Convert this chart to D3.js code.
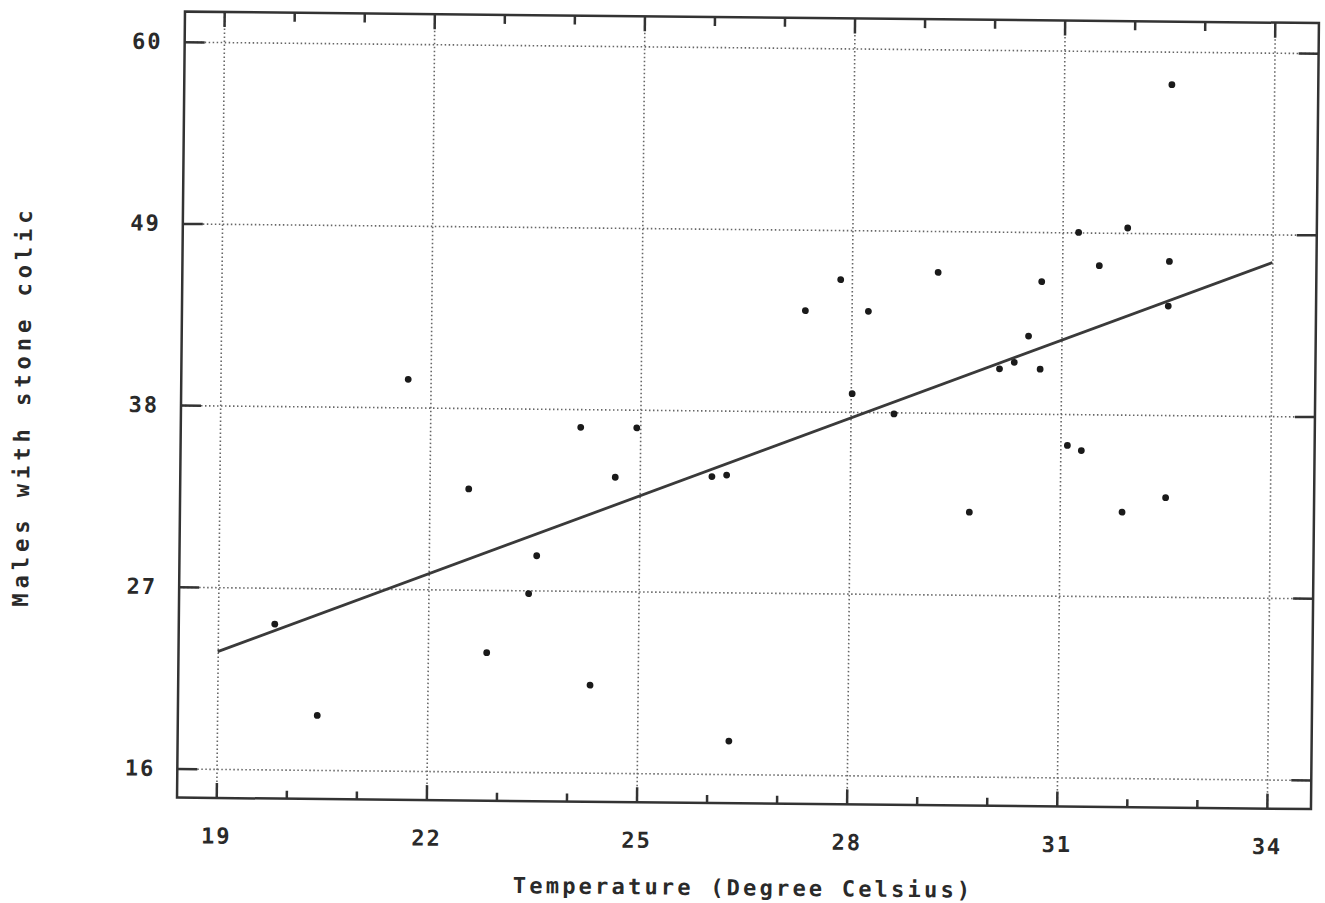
<!DOCTYPE html>
<html>
<head>
<meta charset="utf-8">
<script src="https://cdn.jsdelivr.net/npm/d3@7"></script>
<style>
    body { margin: 0; background: #fff; }
    text { font-family: "DejaVu Sans Mono", monospace; font-weight: bold; fill: #2a2a2a; }
</style>
</head>
<body>
<div id="scatter-chart"></div>
<script>
// values
const temperature = [19.81, 20.43, 21.68, 22.56, 22.84, 23.43, 23.54, 24.15, 24.32, 24.65, 24.95, 26.03,
    26.24, 26.31, 27.34, 27.84, 28.02, 28.24, 28.62, 29.23, 29.71, 30.12, 30.33, 30.53,
    30.71, 30.70, 31.10, 31.30, 31.23, 31.53, 31.89, 31.93, 32.51, 32.53, 32.52, 32.54];
const males = [24.8, 19.3, 39.7, 33.1, 23.2, 26.8, 29.1, 36.9, 21.3, 33.9, 36.9, 34.0,
    34.1, 18.0, 44.1, 46.0, 39.1, 44.1, 37.9, 46.5, 32.0, 40.7, 41.1, 42.7,
    46.0, 40.7, 36.1, 35.8, 49.0, 47.0, 32.1, 49.3, 33.0, 47.3, 44.6, 58.0];

// regression line end points
const fitX = [19, 34];
const fitY = [23.1, 47.3];

const xTicks = [19, 22, 25, 28, 31, 34];
const xMinorTicks = [20, 21, 23, 24, 26, 27, 29, 30, 32, 33];
const yTicks = [16, 27, 38, 49, 60];

function createScatterChart() {
    const margin = { top: 12, right: 10, bottom: 105, left: 181 };
    const width = 1325 - margin.left - margin.right;
    const height = 903 - margin.top - margin.bottom;

    const root = d3.select("#scatter-chart")
        .append("svg")
        .attr("width", 1325)
        .attr("height", 903)
        .append("g")
        .attr("transform", "rotate(0.58 220 405)"); // the scan is a little skewed

    const svg = root.append("g")
        .attr("transform", "translate(" + margin.left + "," + margin.top + ")");

    const xScale = d3.scaleLinear().domain([18.44, 34.63]).range([0, width]);
    const yScale = d3.scaleLinear().domain([14.24, 61.82]).range([height, 0]);

    // dotted grid
    svg.append("g")
        .call(d3.axisBottom(xScale).tickValues(xTicks).tickSize(-height).tickFormat(""))
        .attr("transform", "translate(0," + height + ")")
        .call(g => g.select(".domain").remove())
        .selectAll("line")
        .attr("stroke", "#666")
        .attr("stroke-width", 1.6)
        .attr("stroke-dasharray", "1.5,2.5");

    svg.append("g")
        .call(d3.axisLeft(yScale).tickValues(yTicks).tickSize(-width).tickFormat(""))
        .call(g => g.select(".domain").remove())
        .selectAll("line")
        .attr("stroke", "#666")
        .attr("stroke-width", 1.6)
        .attr("stroke-dasharray", "1.5,2.5");

    // inside ticks on all four sides
    const tickStyle = g => {
        g.select(".domain").remove();
        g.selectAll("line").attr("stroke", "#333").attr("stroke-width", 2.5);
    };

    svg.append("g")
        .attr("transform", "translate(0," + height + ")")
        .call(d3.axisBottom(xScale).tickValues(xTicks).tickSize(-15).tickPadding(30))
        .call(tickStyle)
        .selectAll("text")
        .style("font-size", "22px")
        .style("letter-spacing", "2px");

    svg.append("g")
        .attr("transform", "translate(0," + height + ")")
        .call(d3.axisBottom(xScale).tickValues(xMinorTicks).tickSize(-8).tickFormat(""))
        .call(tickStyle);

    svg.append("g")
        .call(d3.axisTop(xScale).tickValues(xTicks).tickSize(-15).tickFormat(""))
        .call(tickStyle);

    svg.append("g")
        .call(d3.axisTop(xScale).tickValues(xMinorTicks).tickSize(-9).tickFormat(""))
        .call(tickStyle);

    svg.append("g")
        .call(d3.axisLeft(yScale).tickValues(yTicks).tickSize(-20).tickPadding(22))
        .call(tickStyle)
        .selectAll("text")
        .style("font-size", "22px")
        .style("letter-spacing", "2px");

    svg.append("g")
        .attr("transform", "translate(" + width + ",0)")
        .call(d3.axisRight(yScale).tickValues(yTicks).tickSize(-20).tickFormat(""))
        .call(tickStyle);

    // frame
    svg.append("rect")
        .attr("width", width)
        .attr("height", height)
        .attr("fill", "none")
        .attr("stroke", "#333")
        .attr("stroke-width", 2.5);

    // fitted line
    const line = d3.line()
        .x(d => xScale(d[0]))
        .y(d => yScale(d[1]));

    svg.append("path")
        .datum(fitX.map((t, i) => [t, fitY[i]]))
        .attr("d", line)
        .attr("fill", "none")
        .attr("stroke", "#3a3a3a")
        .attr("stroke-width", 2.8);

    svg.selectAll(".dot")
        .data(temperature.map((t, i) => ({ t: t, m: males[i] })))
        .enter().append("circle")
        .attr("class", "dot")
        .attr("cx", d => xScale(d.t))
        .attr("cy", d => yScale(d.m))
        .attr("r", 3.4)
        .attr("fill", "#1a1a1a");

    svg.append("text")
        .attr("x", width / 2)
        .attr("y", height + 92)
        .style("text-anchor", "middle")
        .style("font-size", "22px")
        .style("letter-spacing", "3.2px")
        .text("Temperature (Degree Celsius)");

    svg.append("text")
        .attr("transform", "rotate(-90)")
        .attr("x", -(408 - margin.top))
        .attr("y", -151)
        .style("text-anchor", "middle")
        .style("font-size", "22px")
        .style("letter-spacing", "5px")
        .text("Males with stone colic");
}

createScatterChart();
</script>
</body>
</html>
